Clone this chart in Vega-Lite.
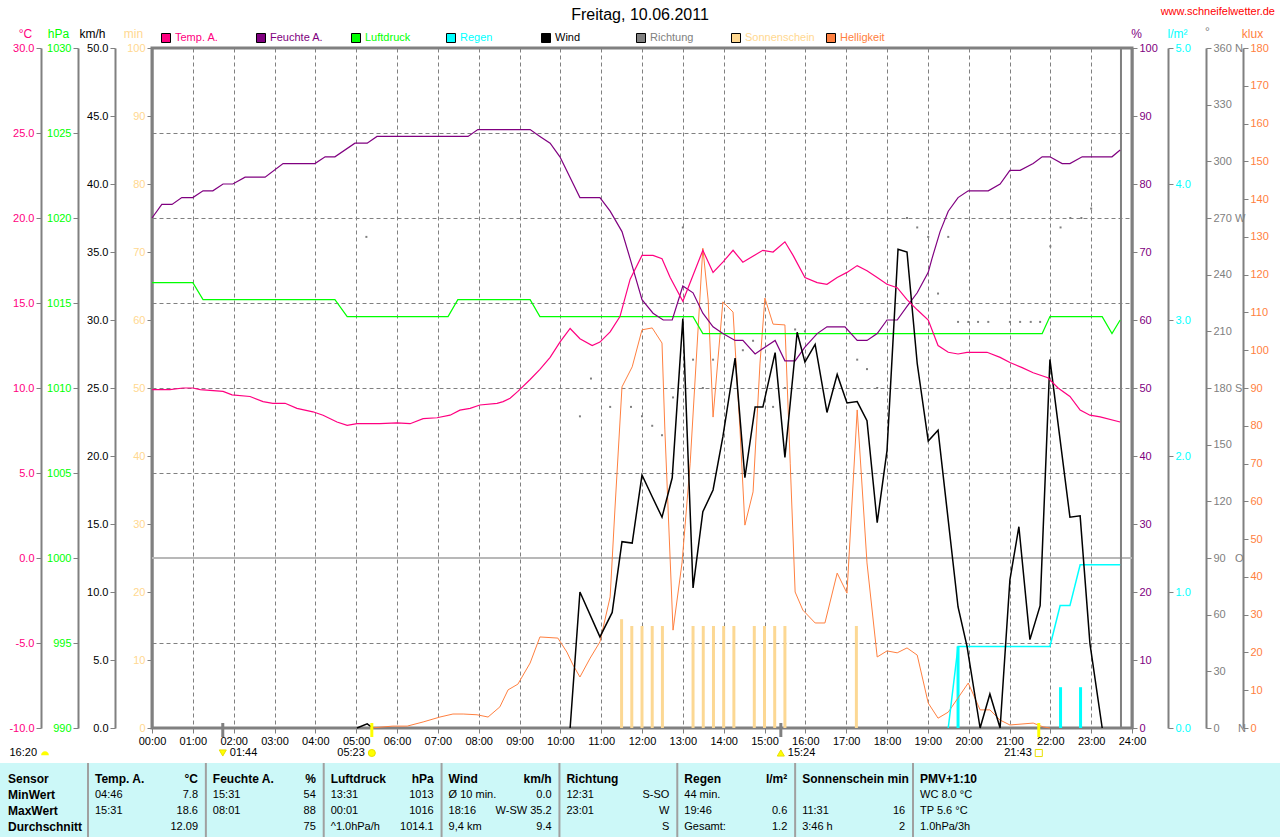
{
"$schema": "https://vega.github.io/schema/vega-lite/v6.json",
"width": 980, "height": 680,
"autosize": {"type": "none"},
"padding": {"left": 152, "top": 48, "right": 148, "bottom": 109},
"background": "white",
"config": {
 "font": "Liberation Sans",
 "view": {"stroke": "#808080", "strokeWidth": 3},
 "axis": {"domainColor": "#808080", "domainWidth": 2, "tickColor": "#808080", "tickSize": 5, "tickWidth": 1, "labelFontSize": 11, "labelPadding": 2, "titleFontSize": 12, "titleFontWeight": "normal", "labelOverlap": false, "labelFlush": false, "labelBound": false, "grid": false, "titleAngle": 0, "titleAlign": "center", "titleBaseline": "middle", "titleY": -15}
},
"datasets": {
 "temp": [{"t":0,"v":9.9},{"t":0.44,"v":9.9},{"t":0.76,"v":10.0},{"t":1.0,"v":10.0},{"t":1.18,"v":9.9},{"t":1.74,"v":9.8},{"t":1.96,"v":9.6},{"t":2.4,"v":9.5},{"t":2.72,"v":9.2},{"t":2.96,"v":9.1},{"t":3.26,"v":9.1},{"t":3.55,"v":8.8},{"t":3.94,"v":8.6},{"t":4.19,"v":8.4},{"t":4.53,"v":8.0},{"t":4.78,"v":7.8},{"t":5.02,"v":7.9},{"t":5.58,"v":7.9},{"t":6.0,"v":7.95},{"t":6.32,"v":7.9},{"t":6.64,"v":8.2},{"t":6.98,"v":8.25},{"t":7.3,"v":8.4},{"t":7.54,"v":8.7},{"t":7.79,"v":8.8},{"t":8.03,"v":9.0},{"t":8.45,"v":9.1},{"t":8.6,"v":9.2},{"t":8.77,"v":9.4},{"t":8.96,"v":9.8},{"t":9.26,"v":10.5},{"t":9.5,"v":11.1},{"t":9.75,"v":11.8},{"t":9.99,"v":12.7},{"t":10.24,"v":13.5},{"t":10.48,"v":12.9},{"t":10.78,"v":12.5},{"t":10.97,"v":12.7},{"t":11.22,"v":13.3},{"t":11.46,"v":14.2},{"t":11.71,"v":16.4},{"t":12.0,"v":17.8},{"t":12.27,"v":17.8},{"t":12.49,"v":17.6},{"t":12.69,"v":16.5},{"t":13.0,"v":15.1},{"t":13.49,"v":18.1},{"t":13.74,"v":16.8},{"t":13.98,"v":17.4},{"t":14.23,"v":18.1},{"t":14.47,"v":17.4},{"t":14.96,"v":18.1},{"t":15.21,"v":18.0},{"t":15.5,"v":18.6},{"t":15.7,"v":17.8},{"t":15.99,"v":16.5},{"t":16.29,"v":16.2},{"t":16.53,"v":16.1},{"t":16.78,"v":16.5},{"t":17.02,"v":16.8},{"t":17.27,"v":17.2},{"t":17.51,"v":16.9},{"t":17.76,"v":16.5},{"t":18.0,"v":16.1},{"t":18.25,"v":15.9},{"t":18.49,"v":15.2},{"t":18.74,"v":14.6},{"t":19.01,"v":14.0},{"t":19.25,"v":12.5},{"t":19.5,"v":12.1},{"t":19.74,"v":12.0},{"t":19.96,"v":12.1},{"t":20.45,"v":12.1},{"t":20.77,"v":11.8},{"t":21.01,"v":11.5},{"t":21.31,"v":11.2},{"t":21.58,"v":10.9},{"t":21.94,"v":10.6},{"t":22.19,"v":10.0},{"t":22.48,"v":9.5},{"t":22.73,"v":8.7},{"t":22.97,"v":8.4},{"t":23.22,"v":8.3},{"t":23.71,"v":8.0}],
 "hum": [{"t":0,"v":75},{"t":0.24,"v":77},{"t":0.49,"v":77},{"t":0.73,"v":78},{"t":1.0,"v":78},{"t":1.25,"v":79},{"t":1.49,"v":79},{"t":1.74,"v":80},{"t":1.98,"v":80},{"t":2.28,"v":81},{"t":2.77,"v":81},{"t":3.21,"v":83},{"t":3.99,"v":83},{"t":4.24,"v":84},{"t":4.48,"v":84},{"t":4.97,"v":86},{"t":5.27,"v":86},{"t":5.51,"v":87},{"t":7.74,"v":87},{"t":7.98,"v":88},{"t":9.26,"v":88},{"t":9.5,"v":87},{"t":9.75,"v":86},{"t":9.99,"v":84},{"t":10.48,"v":78},{"t":10.97,"v":78},{"t":11.22,"v":76},{"t":11.51,"v":73},{"t":11.71,"v":69},{"t":12.0,"v":63},{"t":12.27,"v":61},{"t":12.52,"v":60},{"t":12.74,"v":60},{"t":13.0,"v":65},{"t":13.25,"v":64},{"t":13.49,"v":61},{"t":13.74,"v":59},{"t":13.98,"v":58},{"t":14.28,"v":57},{"t":14.47,"v":57},{"t":14.77,"v":55},{"t":15.01,"v":56},{"t":15.26,"v":57},{"t":15.5,"v":54},{"t":15.75,"v":54},{"t":15.99,"v":56},{"t":16.29,"v":58},{"t":16.53,"v":59},{"t":16.97,"v":59},{"t":17.27,"v":57},{"t":17.51,"v":57},{"t":17.76,"v":58},{"t":18.0,"v":60},{"t":18.25,"v":60},{"t":18.49,"v":62},{"t":18.74,"v":64},{"t":19.01,"v":67},{"t":19.1,"v":69},{"t":19.3,"v":73},{"t":19.5,"v":76},{"t":19.74,"v":78},{"t":19.99,"v":79},{"t":20.48,"v":79},{"t":20.77,"v":80},{"t":21.01,"v":82},{"t":21.26,"v":82},{"t":21.58,"v":83},{"t":21.8,"v":84},{"t":21.99,"v":84},{"t":22.29,"v":83},{"t":22.48,"v":83},{"t":22.78,"v":84},{"t":23.51,"v":84},{"t":23.71,"v":85}],
 "press": [{"t":0,"v":1016.2},{"t":1.0,"v":1016.2},{"t":1.25,"v":1015.2},{"t":4.48,"v":1015.2},{"t":4.78,"v":1014.2},{"t":7.25,"v":1014.2},{"t":7.49,"v":1015.2},{"t":9.26,"v":1015.2},{"t":9.5,"v":1014.2},{"t":13.25,"v":1014.2},{"t":13.49,"v":1013.2},{"t":21.8,"v":1013.2},{"t":21.99,"v":1014.2},{"t":23.27,"v":1014.2},{"t":23.51,"v":1013.2},{"t":23.71,"v":1014.0}],
 "wind": [{"t":5.02,"v":0,"s":"a"},{"t":5.27,"v":0.3,"s":"a"},{"t":5.41,"v":0,"s":"a"},
  {"t":10.24,"v":0,"s":"b"},{"t":10.48,"v":10.0,"s":"b"},{"t":10.97,"v":6.7,"s":"b"},{"t":11.27,"v":8.5,"s":"b"},{"t":11.51,"v":13.7,"s":"b"},{"t":11.76,"v":13.6,"s":"b"},{"t":12.0,"v":18.6,"s":"b"},{"t":12.25,"v":17.0,"s":"b"},{"t":12.49,"v":15.5,"s":"b"},{"t":12.74,"v":18.4,"s":"b"},{"t":13.0,"v":30.1,"s":"b"},{"t":13.25,"v":10.3,"s":"b"},{"t":13.49,"v":15.9,"s":"b"},{"t":13.74,"v":17.5,"s":"b"},{"t":13.98,"v":21.4,"s":"b"},{"t":14.28,"v":27.2,"s":"b"},{"t":14.52,"v":18.4,"s":"b"},{"t":14.77,"v":23.6,"s":"b"},{"t":14.96,"v":23.6,"s":"b"},{"t":15.26,"v":27.6,"s":"b"},{"t":15.5,"v":19.9,"s":"b"},{"t":15.8,"v":29.1,"s":"b"},{"t":15.99,"v":26.9,"s":"b"},{"t":16.24,"v":28.2,"s":"b"},{"t":16.53,"v":23.2,"s":"b"},{"t":16.78,"v":26.0,"s":"b"},{"t":17.02,"v":23.9,"s":"b"},{"t":17.27,"v":24.0,"s":"b"},{"t":17.51,"v":22.6,"s":"b"},{"t":17.76,"v":15.1,"s":"b"},{"t":18.0,"v":20.4,"s":"b"},{"t":18.27,"v":35.2,"s":"b"},{"t":18.49,"v":35.0,"s":"b"},{"t":18.74,"v":26.8,"s":"b"},{"t":19.01,"v":21.1,"s":"b"},{"t":19.25,"v":21.9,"s":"b"},{"t":19.74,"v":8.9,"s":"b"},{"t":19.96,"v":6.0,"s":"b"},{"t":20.28,"v":0,"s":"b"},{"t":20.52,"v":2.5,"s":"b"},{"t":20.77,"v":0,"s":"b"},{"t":21.01,"v":10.9,"s":"b"},{"t":21.23,"v":14.8,"s":"b"},{"t":21.5,"v":6.5,"s":"b"},{"t":21.75,"v":9.0,"s":"b"},{"t":21.99,"v":27.1,"s":"b"},{"t":22.48,"v":15.5,"s":"b"},{"t":22.73,"v":15.6,"s":"b"},{"t":22.97,"v":6.2,"s":"b"},{"t":23.27,"v":0,"s":"b"}],
 "lux": [{"t":5.34,"v":0},{"t":5.9,"v":0.5},{"t":6.25,"v":0.5},{"t":6.64,"v":1.6},{"t":7.05,"v":2.9},{"t":7.37,"v":3.7},{"t":7.62,"v":3.7},{"t":7.96,"v":3.5},{"t":8.23,"v":2.9},{"t":8.52,"v":5.6},{"t":8.72,"v":10.1},{"t":8.96,"v":11.6},{"t":9.26,"v":17.2},{"t":9.5,"v":24.1},{"t":9.94,"v":23.8},{"t":10.16,"v":20.1},{"t":10.31,"v":16.7},{"t":10.48,"v":13.5},{"t":10.73,"v":18.5},{"t":10.97,"v":22.8},{"t":11.22,"v":34.7},{"t":11.34,"v":58.5},{"t":11.51,"v":90.3},{"t":11.76,"v":95.6},{"t":12.0,"v":105.4},{"t":12.25,"v":105.9},{"t":12.49,"v":101.9},{"t":12.56,"v":78.9},{"t":12.69,"v":44.5},{"t":12.76,"v":25.9},{"t":12.98,"v":43.7},{"t":13.18,"v":70.1},{"t":13.49,"v":127.0},{"t":13.62,"v":113.3},{"t":13.74,"v":82.3},{"t":13.98,"v":112.8},{"t":14.23,"v":110.1},{"t":14.4,"v":78.9},{"t":14.52,"v":53.7},{"t":14.72,"v":62.5},{"t":14.89,"v":96.6},{"t":15.01,"v":113.8},{"t":15.21,"v":106.9},{"t":15.5,"v":106.7},{"t":15.63,"v":70.1},{"t":15.75,"v":36.0},{"t":15.94,"v":31.2},{"t":16.24,"v":27.8},{"t":16.48,"v":27.8},{"t":16.78,"v":41.0},{"t":17.02,"v":35.7},{"t":17.27,"v":84.2},{"t":17.51,"v":43.7},{"t":17.76,"v":18.8},{"t":18.0,"v":20.4},{"t":18.25,"v":19.9},{"t":18.49,"v":21.2},{"t":18.74,"v":19.3},{"t":19.01,"v":6.6},{"t":19.25,"v":2.6},{"t":19.5,"v":4.2},{"t":19.99,"v":11.9},{"t":20.28,"v":4.8},{"t":20.52,"v":4.8},{"t":20.77,"v":2.1},{"t":21.01,"v":0.8},{"t":21.58,"v":1.3},{"t":21.82,"v":0.3},{"t":21.99,"v":0}],
 "sun": [{"t":11.5,"v":16},{"t":11.75,"v":15},{"t":12.0,"v":15},{"t":12.25,"v":15},{"t":12.5,"v":15},{"t":13.25,"v":15},{"t":13.5,"v":15},{"t":13.75,"v":15},{"t":14.0,"v":15},{"t":14.25,"v":15},{"t":14.75,"v":15},{"t":15.0,"v":15},{"t":15.25,"v":15},{"t":15.5,"v":15},{"t":17.25,"v":15}],
 "dir": [{"t":5.25,"v":260},{"t":10.48,"v":165},{"t":10.75,"v":185},{"t":11.0,"v":210},{"t":11.22,"v":170},{"t":11.73,"v":170},{"t":12.0,"v":165},{"t":12.25,"v":160},{"t":12.49,"v":155},{"t":12.76,"v":175},{"t":13.0,"v":265},{"t":13.25,"v":195},{"t":13.49,"v":180},{"t":13.74,"v":195},{"t":14.47,"v":200},{"t":14.72,"v":205},{"t":15.21,"v":170},{"t":15.5,"v":180},{"t":15.75,"v":211},{"t":15.99,"v":210},{"t":17.27,"v":195},{"t":17.51,"v":190},{"t":17.76,"v":180},{"t":18.49,"v":270},{"t":18.74,"v":265},{"t":19.01,"v":260},{"t":19.25,"v":230},{"t":19.5,"v":260},{"t":19.74,"v":215},{"t":19.99,"v":215},{"t":20.23,"v":215},{"t":20.48,"v":215},{"t":21.01,"v":215},{"t":21.26,"v":215},{"t":21.52,"v":215},{"t":21.75,"v":215},{"t":21.99,"v":191},{"t":22.0,"v":255},{"t":22.25,"v":265},{"t":22.49,"v":270},{"t":22.76,"v":270},{"t":23.0,"v":275}],
 "rainsum": [{"t":19.5,"v":0},{"t":19.74,"v":0.6},{"t":21.99,"v":0.6},{"t":22.24,"v":0.9},{"t":22.48,"v":0.9},{"t":22.73,"v":1.2},{"t":23.71,"v":1.2}],
 "rainbar": [{"t":19.74,"v":0.6},{"t":22.25,"v":0.3},{"t":22.74,"v":0.3}],
 "events": [{"t":1.7333,"label":"01:44","ev":"Monduntergang"},{"t":5.3833,"label":"05:23","ev":"Sonnenaufgang"},{"t":15.4,"label":"15:24","ev":"Mondaufgang"},{"t":21.7167,"label":"21:43","ev":"Sonnenuntergang"}],
 "legend": [{"name":"Temp. A."},{"name":"Feuchte A."},{"name":"Luftdruck"},{"name":"Regen"},{"name":"Wind"},{"name":"Richtung"},{"name":"Sonnenschein"},{"name":"Helligkeit"}],
 "table": [
  {"r":0,"c":0,"label":"Sensor","value":""},{"r":1,"c":0,"label":"MinWert","value":""},{"r":2,"c":0,"label":"MaxWert","value":""},{"r":3,"c":0,"label":"Durchschnitt","value":""},
  {"r":0,"c":1,"label":"Temp. A.","value":"°C"},{"r":1,"c":1,"label":"\u2007 04:46","value":"7.8"},{"r":2,"c":1,"label":"\u2007 15:31","value":"18.6"},{"r":3,"c":1,"label":"","value":"12.09"},
  {"r":0,"c":2,"label":"Feuchte A.","value":"%"},{"r":1,"c":2,"label":"\u2007 15:31","value":"54"},{"r":2,"c":2,"label":"\u2007 08:01","value":"88"},{"r":3,"c":2,"label":"","value":"75"},
  {"r":0,"c":3,"label":"Luftdruck","value":"hPa"},{"r":1,"c":3,"label":"\u2007 13:31","value":"1013"},{"r":2,"c":3,"label":"\u2007 00:01","value":"1016"},{"r":3,"c":3,"label":"^1.0hPa/h","value":"1014.1"},
  {"r":0,"c":4,"label":"Wind","value":"km/h"},{"r":1,"c":4,"label":"Ø 10 min.","value":"0.0"},{"r":2,"c":4,"label":"\u2007 18:16","value":"W-SW 35.2"},{"r":3,"c":4,"label":"\u2007 9,4 km","value":"9.4"},
  {"r":0,"c":5,"label":"Richtung","value":""},{"r":1,"c":5,"label":"\u2007 12:31","value":"S-SO"},{"r":2,"c":5,"label":"\u2007 23:01","value":"W"},{"r":3,"c":5,"label":"","value":"S"},
  {"r":0,"c":6,"label":"Regen","value":"l/m²"},{"r":1,"c":6,"label":"44 min.","value":""},{"r":2,"c":6,"label":"\u2007 19:46","value":"0.6"},{"r":3,"c":6,"label":"Gesamt:","value":"1.2"},
  {"r":0,"c":7,"label":"Sonnenschein min","value":""},{"r":1,"c":7,"label":"","value":""},{"r":2,"c":7,"label":"\u2007 11:31","value":"16"},{"r":3,"c":7,"label":"3:46 h","value":"2"},
  {"r":0,"c":8,"label":"PMV+1:10","value":""},{"r":1,"c":8,"label":"WC 8.0 °C","value":""},{"r":2,"c":8,"label":"TP 5.6 °C","value":""},{"r":3,"c":8,"label":"1.0hPa/3h","value":""}
 ]
},
"layer": [
 {"data": {"values": [{}]},
  "mark": {"type": "rule", "color": "#b8b8b8", "strokeWidth": 2},
  "encoding": {"y": {"datum": 0, "type": "quantitative", "scale": {"domain": [-10, 30], "nice": false},
   "axis": {"orient": "left", "offset": 0, "values": [-5,0,5,10,15,20,25], "grid": true, "gridDash": [4,3], "gridColor": "#808080", "gridWidth": 1, "labels": false, "ticks": false, "domain": false, "title": null}}}},
 {"data": {"values": [{}]},
  "mark": {"type": "rule", "color": "#808080", "strokeWidth": 2},
  "encoding": {"x": {"datum": 23.73, "type": "quantitative", "scale": {"domain": [0, 24], "nice": false}, "axis": null}}},
 {"data": {"name": "sun"},
  "mark": {"type": "rule", "color": "#fcd894", "strokeWidth": 3},
  "encoding": {"x": {"field": "t", "type": "quantitative", "scale": {"domain": [0, 24], "nice": false}, "axis": null},
   "y": {"field": "v", "type": "quantitative", "scale": {"domain": [0, 100], "nice": false},
    "axis": {"orient": "left", "offset": 0, "values": [0,10,20,30,40,50,60,70,80,90,100], "format": "d", "labelColor": "#ffd890", "title": "min", "titleColor": "#ffd890", "titleX": -19}},
   "y2": {"datum": 0}}},
 {"data": {"name": "rainbar"},
  "mark": {"type": "rule", "color": "#00ffff", "strokeWidth": 3},
  "encoding": {"x": {"field": "t", "type": "quantitative", "scale": {"domain": [0, 24], "nice": false}, "axis": null},
   "y": {"field": "v", "type": "quantitative", "scale": {"domain": [0, 5], "nice": false}, "axis": null},
   "y2": {"datum": 0}}},
 {"data": {"name": "lux"},
  "mark": {"type": "line", "color": "#ff8040", "strokeWidth": 1},
  "encoding": {"x": {"field": "t", "type": "quantitative", "scale": {"domain": [0, 24], "nice": false}, "axis": null},
   "y": {"field": "v", "type": "quantitative", "scale": {"domain": [0, 180], "nice": false},
    "axis": {"orient": "right", "offset": 111, "values": [0,10,20,30,40,50,60,70,80,90,100,110,120,130,140,150,160,170,180], "format": "d", "labelColor": "#ff8040", "title": "klux", "titleColor": "#ff8040", "titleX": 9}}}},
 {"data": {"name": "dir"},
  "mark": {"type": "point", "shape": "square", "filled": true, "size": 4, "color": "#808080", "opacity": 1},
  "encoding": {"x": {"field": "t", "type": "quantitative", "scale": {"domain": [0, 24], "nice": false}, "axis": null},
   "y": {"field": "v", "type": "quantitative", "scale": {"domain": [0, 360], "nice": false},
    "axis": {"orient": "right", "offset": 74, "values": [0,30,60,90,120,150,180,210,240,270,300,330,360], "labelColor": "#808080", "title": "°", "titleColor": "#808080", "titleX": 1, "titleY": -17,
     "labelExpr": "datum.value == 360 ? '360 N' : datum.value == 270 ? '270 W' : datum.value == 180 ? '180 S' : datum.value == 90 ? '90\u00a0\u00a0\u00a0O' : datum.value == 0 ? '0\u00a0\u00a0\u00a0\u00a0\u00a0\u00a0N' : datum.label"}}}},
 {"data": {"name": "rainsum"},
  "mark": {"type": "line", "color": "#00ffff", "strokeWidth": 1.5},
  "encoding": {"x": {"field": "t", "type": "quantitative", "scale": {"domain": [0, 24], "nice": false}, "axis": null},
   "y": {"field": "v", "type": "quantitative", "scale": {"domain": [0, 5], "nice": false},
    "axis": {"orient": "right", "offset": 36, "values": [0,1,2,3,4,5], "format": ".1f", "labelColor": "#00ffff", "title": "l/m²", "titleColor": "#00ffff", "titleX": 9}}}},
 {"data": {"name": "press"},
  "mark": {"type": "line", "color": "#00ff00", "strokeWidth": 1.2},
  "encoding": {"x": {"field": "t", "type": "quantitative", "scale": {"domain": [0, 24], "nice": false}, "axis": null},
   "y": {"field": "v", "type": "quantitative", "scale": {"domain": [990, 1030], "nice": false, "zero": false},
    "axis": {"orient": "left", "offset": 74, "values": [990,995,1000,1005,1010,1015,1020,1025,1030], "format": "d", "labelColor": "#00ff00", "title": "hPa", "titleColor": "#00ff00", "titleX": -20}}}},
 {"data": {"name": "hum"},
  "mark": {"type": "line", "color": "#800080", "strokeWidth": 1.2},
  "encoding": {"x": {"field": "t", "type": "quantitative", "scale": {"domain": [0, 24], "nice": false}, "axis": null},
   "y": {"field": "v", "type": "quantitative", "scale": {"domain": [0, 100], "nice": false},
    "axis": {"orient": "right", "offset": 0, "values": [0,10,20,30,40,50,60,70,80,90,100], "format": "d", "labelColor": "#800080", "title": "%", "titleColor": "#800080", "titleX": 4}}}},
 {"data": {"name": "wind"},
  "mark": {"type": "line", "color": "#000000", "strokeWidth": 1.5},
  "encoding": {"x": {"field": "t", "type": "quantitative", "scale": {"domain": [0, 24], "nice": false}, "axis": null},
   "y": {"field": "v", "type": "quantitative", "scale": {"domain": [0, 50], "nice": false},
    "axis": {"orient": "left", "offset": 37, "values": [0,5,10,15,20,25,30,35,40,45,50], "format": ".1f", "labelColor": "#000000", "title": "km/h", "titleColor": "#000000", "titleX": -23}},
   "detail": {"field": "s"}}},
 {"data": {"name": "temp"},
  "mark": {"type": "line", "color": "#ff0080", "strokeWidth": 1.2},
  "encoding": {"x": {"field": "t", "type": "quantitative", "scale": {"domain": [0, 24], "nice": false},
    "axis": {"orient": "bottom", "values": [0,1,2,3,4,5,6,7,8,9,10,11,12,13,14,15,16,17,18,19,20,21,22,23,24], "labelExpr": "(datum.value < 10 ? '0' : '') + datum.value + ':00'", "grid": true, "gridDash": [4,3], "gridColor": "#808080", "domain": false, "title": null, "labelColor": "#000000", "tickSize": 5}},
   "y": {"field": "v", "type": "quantitative", "scale": {"domain": [-10, 30], "nice": false},
    "axis": {"orient": "left", "offset": 111, "values": [-10,-5,0,5,10,15,20,25,30], "labelExpr": "replace(format(datum.value, '.1f'), '\u2212', '-')", "labelColor": "#ff0080", "title": "°C", "titleColor": "#ff0080", "titleX": -16}}}},
 {"data": {"name": "events"},
  "mark": {"type": "rule", "strokeWidth": 3, "yOffset": -5, "y2Offset": 9},
  "encoding": {"x": {"field": "t", "type": "quantitative", "scale": {"domain": [0, 24], "nice": false}, "axis": null},
   "y": {"datum": 0, "type": "quantitative", "scale": {"domain": [0, 50], "nice": false}, "axis": null},
   "y2": {"datum": 0},
   "stroke": {"field": "ev", "type": "nominal", "scale": {"domain": ["Monduntergang","Sonnenaufgang","Mondaufgang","Sonnenuntergang"], "range": ["#808080","#ffff00","#808080","#ffff00"]}, "legend": null}}},
 {"data": {"name": "events"},
  "mark": {"type": "point", "filled": true, "size": 50, "yOffset": 25, "stroke": "#e8e000", "strokeWidth": 1, "opacity": 1},
  "encoding": {"x": {"field": "t", "type": "quantitative", "scale": {"domain": [0, 24], "nice": false}, "axis": null},
   "y": {"datum": 0, "type": "quantitative", "scale": {"domain": [0, 50], "nice": false}, "axis": null},
   "shape": {"field": "ev", "type": "nominal", "scale": {"domain": ["Monduntergang","Sonnenaufgang","Mondaufgang","Sonnenuntergang"], "range": ["triangle-down","circle","triangle-up","square"]}, "legend": null},
   "fill": {"field": "ev", "type": "nominal", "scale": {"domain": ["Monduntergang","Sonnenaufgang","Mondaufgang","Sonnenuntergang"], "range": ["#ffff00","#ffff00","#ffff00","#ffffff"]}, "legend": null}}},
 {"data": {"name": "events"},
  "transform": [{"filter": "datum.ev == 'Monduntergang' || datum.ev == 'Mondaufgang'"}],
  "mark": {"type": "text", "align": "left", "dx": 7, "yOffset": 25, "fontSize": 11, "color": "#000000"},
  "encoding": {"x": {"field": "t", "type": "quantitative", "scale": {"domain": [0, 24], "nice": false}, "axis": null},
   "y": {"datum": 0, "type": "quantitative", "scale": {"domain": [0, 50], "nice": false}, "axis": null},
   "text": {"field": "label"}}},
 {"data": {"name": "events"},
  "transform": [{"filter": "datum.ev == 'Sonnenaufgang' || datum.ev == 'Sonnenuntergang'"}],
  "mark": {"type": "text", "align": "right", "dx": -7, "yOffset": 25, "fontSize": 11, "color": "#000000"},
  "encoding": {"x": {"field": "t", "type": "quantitative", "scale": {"domain": [0, 24], "nice": false}, "axis": null},
   "y": {"datum": 0, "type": "quantitative", "scale": {"domain": [0, 50], "nice": false}, "axis": null},
   "text": {"field": "label"}}},
 {"data": {"values": [{"s": "16:20"}]},
  "mark": {"type": "text", "align": "right", "dx": -115, "yOffset": 25, "fontSize": 11, "color": "#000000"},
  "encoding": {"x": {"datum": 0, "type": "quantitative", "scale": {"domain": [0, 24], "nice": false}, "axis": null},
   "y": {"datum": 0, "type": "quantitative", "scale": {"domain": [0, 50], "nice": false}, "axis": null},
   "text": {"field": "s"}}},
 {"data": {"values": [{"s": "Mond"}]},
  "mark": {"type": "point", "shape": "M-1,0.3A1,1,0,0,1,1,0.3Z", "filled": true, "size": 60, "color": "#ffff00", "opacity": 1, "xOffset": -107, "yOffset": 26},
  "encoding": {"x": {"datum": 0, "type": "quantitative", "scale": {"domain": [0, 24], "nice": false}, "axis": null},
   "y": {"datum": 0, "type": "quantitative", "scale": {"domain": [0, 50], "nice": false}, "axis": null}}},
 {"data": {"name": "legend"},
  "mark": {"type": "point", "shape": "square", "filled": true, "size": 81, "stroke": "#000000", "strokeWidth": 1, "opacity": 1, "yOffset": -10},
  "encoding": {"x": {"field": "name", "type": "nominal", "sort": null, "scale": {"type": "point", "range": [14, 679], "padding": 0}, "axis": null},
   "y": {"datum": 100, "type": "quantitative", "scale": {"domain": [0, 100], "nice": false}, "axis": null},
   "fill": {"field": "name", "type": "nominal", "scale": {"domain": ["Temp. A.","Feuchte A.","Luftdruck","Regen","Wind","Richtung","Sonnenschein","Helligkeit"], "range": ["#ff0080","#800080","#00ff00","#00ffff","#000000","#808080","#ffd890","#ff8040"]}, "legend": null}}},
 {"data": {"name": "legend"},
  "mark": {"type": "text", "align": "left", "dx": 9, "yOffset": -10, "fontSize": 11},
  "encoding": {"x": {"field": "name", "type": "nominal", "sort": null, "scale": {"type": "point", "range": [14, 679], "padding": 0}, "axis": null},
   "y": {"datum": 100, "type": "quantitative", "scale": {"domain": [0, 100], "nice": false}, "axis": null},
   "text": {"field": "name"},
   "color": {"field": "name", "type": "nominal", "scale": {"domain": ["Temp. A.","Feuchte A.","Luftdruck","Regen","Wind","Richtung","Sonnenschein","Helligkeit"], "range": ["#ff0080","#800080","#00ff00","#00ffff","#000000","#808080","#ffd890","#ff8040"]}, "legend": null}}},
 {"data": {"values": [{"s": "Freitag, 10.06.2011"}]},
  "mark": {"type": "text", "align": "center", "dx": -2, "yOffset": -33, "fontSize": 16, "color": "#000000"},
  "encoding": {"x": {"datum": 12, "type": "quantitative", "scale": {"domain": [0, 24], "nice": false}, "axis": null},
   "y": {"datum": 100, "type": "quantitative", "scale": {"domain": [0, 100], "nice": false}, "axis": null},
   "text": {"field": "s"}}},
 {"data": {"values": [{"s": "www.schneifelwetter.de"}]},
  "mark": {"type": "text", "align": "right", "dx": 143, "yOffset": -36, "fontSize": 11, "color": "#ff0000"},
  "encoding": {"x": {"datum": 24, "type": "quantitative", "scale": {"domain": [0, 24], "nice": false}, "axis": null},
   "y": {"datum": 100, "type": "quantitative", "scale": {"domain": [0, 100], "nice": false}, "axis": null},
   "text": {"field": "s"}}},
 {"data": {"values": [{}]},
  "mark": {"type": "rect", "color": "#ccf8f8"},
  "encoding": {"x": {"datum": -1, "type": "quantitative", "scale": {"type": "linear", "domain": [0, 1, 8], "range": [-144, -57, 768]}, "axis": null},
   "x2": {"datum": 12},
   "y": {"datum": -1, "type": "quantitative", "scale": {"domain": [0, 3], "range": [731, 779]}, "axis": null},
   "y2": {"datum": 4}}},
 {"data": {"name": "table"},
  "transform": [{"filter": "datum.r == 0 && datum.c > 0"}],
  "mark": {"type": "rule", "color": "#a0a0a0", "strokeWidth": 2, "xOffset": -7},
  "encoding": {"x": {"field": "c", "type": "quantitative", "scale": {"type": "linear", "domain": [0, 1, 8], "range": [-144, -57, 768]}, "axis": null},
   "y": {"datum": -1, "type": "quantitative", "scale": {"domain": [0, 3], "range": [731, 779]}, "axis": null},
   "y2": {"datum": 4}}},
 {"data": {"name": "table"},
  "transform": [{"filter": "datum.r == 0 || datum.c == 0"}],
  "mark": {"type": "text", "align": "left", "fontSize": 12, "fontWeight": "bold", "color": "#000000"},
  "encoding": {"x": {"field": "c", "type": "quantitative", "scale": {"type": "linear", "domain": [0, 1, 8], "range": [-144, -57, 768]}, "axis": null},
   "y": {"field": "r", "type": "quantitative", "scale": {"domain": [0, 3], "range": [731, 779]}, "axis": null},
   "text": {"field": "label"}}},
 {"data": {"name": "table"},
  "transform": [{"filter": "datum.r == 0 || datum.c == 0"}],
  "mark": {"type": "text", "align": "right", "dx": 103, "fontSize": 12, "fontWeight": "bold", "color": "#000000"},
  "encoding": {"x": {"field": "c", "type": "quantitative", "scale": {"type": "linear", "domain": [0, 1, 8], "range": [-144, -57, 768]}, "axis": null},
   "y": {"field": "r", "type": "quantitative", "scale": {"domain": [0, 3], "range": [731, 779]}, "axis": null},
   "text": {"field": "value"}}},
 {"data": {"name": "table"},
  "transform": [{"filter": "datum.r > 0 && datum.c > 0"}],
  "mark": {"type": "text", "align": "left", "fontSize": 11, "color": "#000000"},
  "encoding": {"x": {"field": "c", "type": "quantitative", "scale": {"type": "linear", "domain": [0, 1, 8], "range": [-144, -57, 768]}, "axis": null},
   "y": {"field": "r", "type": "quantitative", "scale": {"domain": [0, 3], "range": [731, 779]}, "axis": null},
   "text": {"field": "label"}}},
 {"data": {"name": "table"},
  "transform": [{"filter": "datum.r > 0 && datum.c > 0"}],
  "mark": {"type": "text", "align": "right", "dx": 103, "fontSize": 11, "color": "#000000"},
  "encoding": {"x": {"field": "c", "type": "quantitative", "scale": {"type": "linear", "domain": [0, 1, 8], "range": [-144, -57, 768]}, "axis": null},
   "y": {"field": "r", "type": "quantitative", "scale": {"domain": [0, 3], "range": [731, 779]}, "axis": null},
   "text": {"field": "value"}}}
],
"resolve": {"scale": {"x": "independent", "y": "independent", "color": "independent", "fill": "independent", "stroke": "independent", "shape": "independent"}, "axis": {"x": "independent", "y": "independent"}}
}
